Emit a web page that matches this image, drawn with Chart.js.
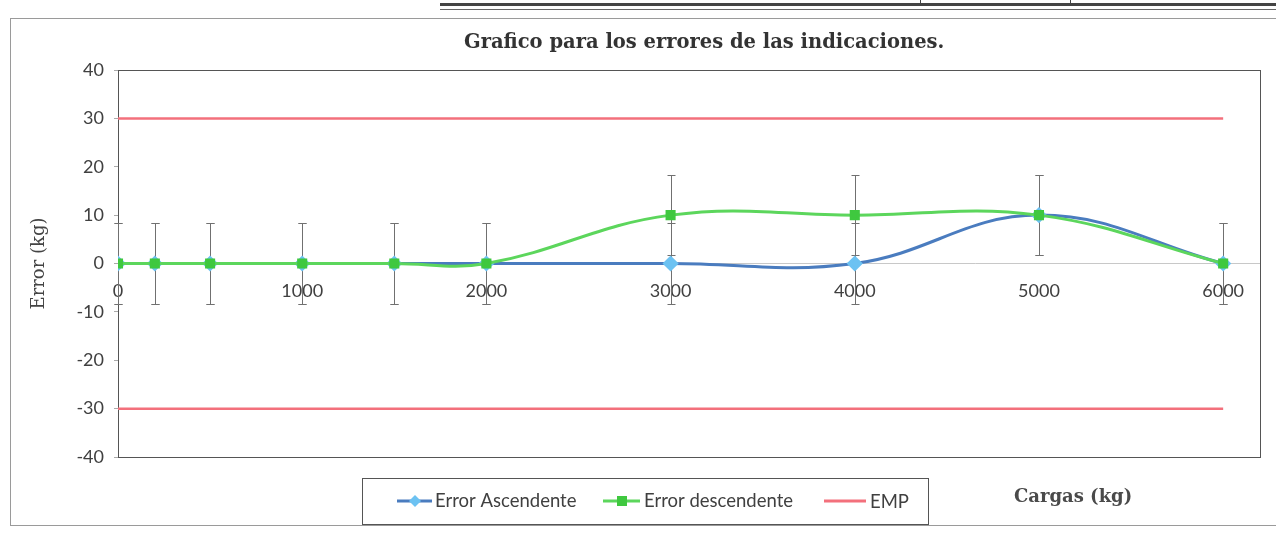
<!DOCTYPE html>
<html>
<head>
<meta charset="utf-8">
<title>Grafico de errores</title>
<script src="https://cdn.jsdelivr.net/npm/chart.js@4/dist/chart.umd.min.js"></script>
<style>
  html, body { margin: 0; padding: 0; background: #fff; }
  body { width: 1276px; height: 543px; position: relative; overflow: hidden; }
  #marco { position: absolute; left: 10px; top: 18px; right: -4px; height: 506px; border: 1px solid #9a9a9a; }
  #tabla { position: absolute; left: 440px; top: 3px; right: 0; height: 3px; border-top: 3px solid #444; border-bottom: 1px solid #666; }
  .sep { position: absolute; top: 0; width: 1px; height: 6px; background: #444; }
  #grafico { position: absolute; left: 0; top: 0; }
</style>
</head>
<body>
<div id="tabla"></div>
<div class="sep" style="left:920px"></div>
<div class="sep" style="left:1070px"></div>
<div id="marco"></div>
<canvas id="grafico" width="1276" height="543"></canvas>
<script>
// datos
const cargas = [0, 200, 500, 1000, 1500, 2000, 3000, 4000, 5000, 6000];
const errorAscendente = [0, 0, 0, 0, 0, 0, 0, 0, 10, 0];
const errorDescendente = [0, 0, 0, 0, 0, 0, 10, 10, 10, 0];
const incertidumbre = [8.3, 8.3, 8.3, 8.3, 8.3, 8.3, 8.3, 8.3, 8.3, 8.3];
const empCargas = [0, 6000];
const empSuperior = [30, 30];
const empInferior = [-30, -30];
const etiquetasX = [0, 1000, 2000, 3000, 4000, 5000, 6000];

const azul = "#4a7cbf";
const azulClaro = "#6cc2f2";
const verde = "#5cd65c";
const verdeMarca = "#3fc83f";
const rojo = "#f3707c";

const puntos = (xs, ys) => xs.map((x, i) => ({ x: x, y: ys[i] }));

// barras de error (Chart.js no las trae)
const barrasError = {
  id: "barrasError",
  beforeDatasetsDraw(chart) {
    const { ctx, scales: { x, y } } = chart;
    ctx.save();
    ctx.strokeStyle = "#707070";
    ctx.lineWidth = 1;
    chart.data.datasets.forEach((ds) => {
      if (!ds.errores) return;
      ds.data.forEach((p, j) => {
        const px = Math.round(x.getPixelForValue(p.x)) + 0.5;
        const arriba = Math.round(y.getPixelForValue(p.y + ds.errores[j])) + 0.5;
        const abajo = Math.round(y.getPixelForValue(p.y - ds.errores[j])) + 0.5;
        ctx.beginPath();
        ctx.moveTo(px, arriba);
        ctx.lineTo(px, abajo);
        ctx.moveTo(px - 4, arriba);
        ctx.lineTo(px + 4, arriba);
        ctx.moveTo(px - 4, abajo);
        ctx.lineTo(px + 4, abajo);
        ctx.stroke();
      });
    });
    ctx.restore();
  },
};

// borde del area de trazado
const bordeArea = {
  id: "bordeArea",
  beforeDatasetsDraw(chart) {
    const { ctx, chartArea: a } = chart;
    ctx.save();
    ctx.strokeStyle = "#555";
    ctx.lineWidth = 1;
    ctx.strokeRect(Math.round(a.left) + 0.5, Math.round(a.top) + 0.5, Math.round(a.right - a.left), Math.round(a.bottom - a.top));
    ctx.restore();
  },
};

// titulo, leyenda al estilo Excel y titulo del eje x
const textos = {
  id: "textos",
  afterDraw(chart) {
    const ctx = chart.ctx;
    ctx.save();
    ctx.textBaseline = "middle";
    ctx.textAlign = "left";
    ctx.fillStyle = "#333";
    ctx.font = "bold 19.5px 'DejaVu Serif'";
    ctx.fillText("Grafico para los errores de las indicaciones.", 464, 43);

    ctx.strokeStyle = "#555";
    ctx.lineWidth = 1;
    ctx.strokeRect(362.5, 478.5, 566, 46);
    const yc = 501;
    ctx.lineWidth = 3;
    // Error Ascendente
    ctx.strokeStyle = azul;
    ctx.beginPath(); ctx.moveTo(397, yc); ctx.lineTo(432, yc); ctx.stroke();
    ctx.fillStyle = azulClaro;
    ctx.beginPath();
    ctx.moveTo(415, yc - 6); ctx.lineTo(421, yc); ctx.lineTo(415, yc + 6); ctx.lineTo(409, yc);
    ctx.closePath(); ctx.fill();
    // Error descendente
    ctx.strokeStyle = verde;
    ctx.beginPath(); ctx.moveTo(603, yc); ctx.lineTo(640, yc); ctx.stroke();
    ctx.fillStyle = verdeMarca;
    ctx.fillRect(617, yc - 5, 10, 10);
    // EMP
    ctx.strokeStyle = rojo;
    ctx.beginPath(); ctx.moveTo(824, yc); ctx.lineTo(866, yc); ctx.stroke();

    ctx.fillStyle = "#404040";
    ctx.font = "18.5px Lato";
    ctx.fillText("Error Ascendente", 435, yc);
    ctx.fillText("Error descendente", 644, yc);
    ctx.fillText("EMP", 870, yc + 1);

    ctx.font = "bold 18px 'DejaVu Serif'";
    ctx.fillStyle = "#4a4a4a";
    ctx.fillText("Cargas (kg)", 1014, 497);
    ctx.restore();
  },
};

new Chart(document.getElementById("grafico"), {
  type: "line",
  data: {
    datasets: [
      {
        label: "Error Ascendente",
        data: puntos(cargas, errorAscendente),
        errores: incertidumbre,
        borderColor: azul,
        borderWidth: 3,
        pointStyle: "rectRot",
        pointRadius: 6,
        pointBackgroundColor: azulClaro,
        pointBorderColor: azulClaro,
        tension: 0.4,
        order: 1,
      },
      {
        label: "Error descendente",
        data: puntos(cargas, errorDescendente),
        errores: incertidumbre,
        borderColor: verde,
        borderWidth: 3,
        pointStyle: "rect",
        pointRadius: 5,
        pointBackgroundColor: verdeMarca,
        pointBorderColor: verdeMarca,
        tension: 0.4,
        order: 0,
      },
      {
        label: "EMP",
        data: puntos(empCargas, empSuperior),
        borderColor: rojo,
        borderWidth: 2.5,
        pointRadius: 0,
        order: 2,
      },
      {
        label: "EMP inferior",
        data: puntos(empCargas, empInferior),
        borderColor: rojo,
        borderWidth: 2.5,
        pointRadius: 0,
        order: 2,
      },
    ],
  },
  options: {
    responsive: false,
    animation: false,
    layout: { padding: { left: 0, right: 16, top: 70, bottom: 86 } },
    plugins: {
      legend: { display: false },
      tooltip: { enabled: false },
      title: { display: false },
    },
    scales: {
      x: {
        type: "linear",
        min: 0,
        max: 6200,
        position: { y: 0 },
        afterFit(scale) { scale.height = 0; },
        afterBuildTicks(scale) { scale.ticks = etiquetasX.map((v) => ({ value: v })); },
        grid: { display: false },
        border: { display: true, color: "#c8c8c8", dash: [2, 2], width: 1 },
        ticks: {
          padding: 9,
          color: "#404040",
          font: { family: "Lato", size: 18 },
          maxRotation: 0,
          autoSkip: false,
          callback: (v) => String(v),
        },
      },
      y: {
        min: -40,
        max: 40,
        afterFit(scale) { scale.width = 118; },
        grid: { drawOnChartArea: false, drawTicks: true, tickLength: 4, color: "#aaa" },
        border: { color: "#555" },
        ticks: {
          stepSize: 10,
          padding: 10,
          color: "#404040",
          font: { family: "Lato", size: 18 },
        },
        title: {
          display: true,
          text: "Error (kg)",
          color: "#444",
          font: { family: "DejaVu Serif", size: 18 },
          padding: { top: 29 },
        },
      },
    },
  },
  plugins: [bordeArea, barrasError, textos],
});
</script>
</body>
</html>
